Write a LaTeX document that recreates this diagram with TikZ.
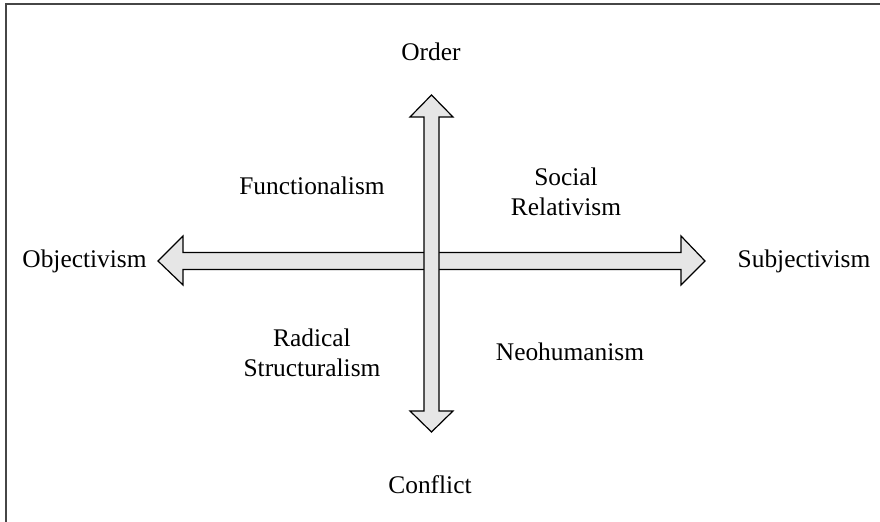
\documentclass[tikz,border=0pt]{standalone}
\usepackage{fontspec}
\setmainfont{Liberation Serif}
\usetikzlibrary{positioning}
\definecolor{axisgray}{RGB}{230,230,230}
\definecolor{framegray}{RGB}{70,70,70}

\begin{document}
\begin{tikzpicture}[
  x=0.5pt, y=-0.5pt,
  axis/.style={draw=black, line width=0.6pt, fill=axisgray, line join=miter},
  lbl/.style={font=\fontsize{12.7}{14.8}\selectfont, align=center, inner sep=0pt}
]
\useasboundingbox (0,0) rectangle (880,522);

% --- Frame (top and left only) ---
\draw[framegray, line width=0.9pt] (6,522) -- (6,4) -- (880,4);

% --- Horizontal axis ---
\draw[axis] (158,261) -- (183,236) -- (183,252.5) -- (681,252.5) -- (681,236)
  -- (705,261) -- (681,285) -- (681,269.5) -- (183,269.5) -- (183,285) -- cycle;

% --- Vertical axis ---
\draw[axis] (431.5,95) -- (453,117) -- (439,117) -- (439,411) -- (453,411)
  -- (431.5,432) -- (410,411) -- (424,411) -- (424,117) -- (410,117) -- cycle;

% --- Axis ends ---
\node[lbl] (order) at (431,52) {Order};
\node[lbl] (conflict) at (430,485) {Conflict};
\node[lbl] (objectivism) at (84.5,261) {Objectivism};
\node[lbl] (subjectivism) at (804,261) {Subjectivism};

% --- Quadrants ---
\node[lbl] (functionalism) at (312,186) {Functionalism};
\node[lbl] (relativism) at (566,192) {Social\\Relativism};
\node[lbl] (radical) at (312,353) {Radical\\Structuralism};
\node[lbl] (neohumanism) at (570,352) {Neohumanism};

\end{tikzpicture}
\end{document}
